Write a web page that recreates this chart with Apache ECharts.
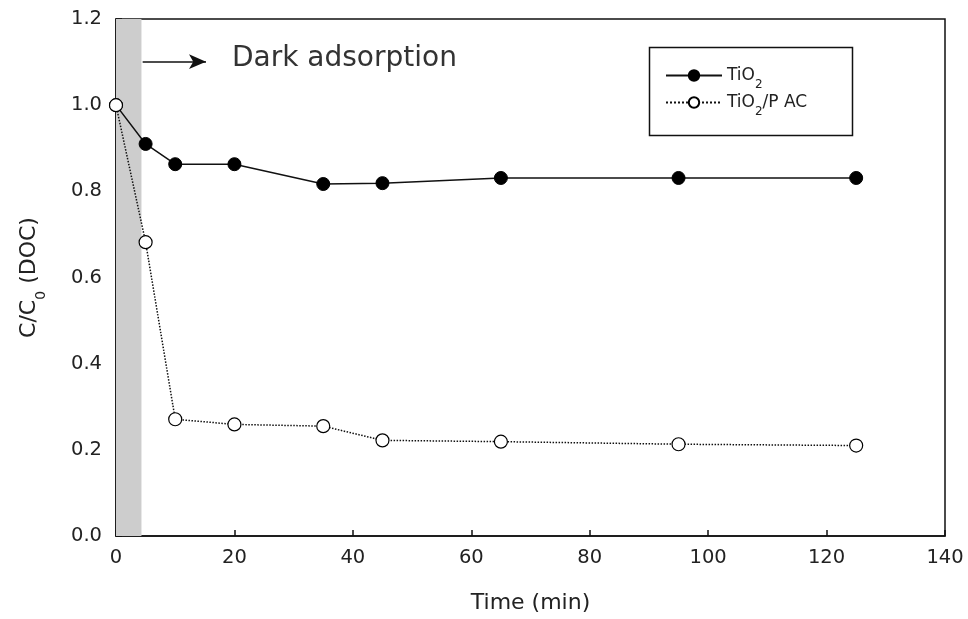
<!DOCTYPE html>
<html><head><meta charset="utf-8">
<script src="https://cdn.jsdelivr.net/npm/echarts@6/dist/echarts.min.js"></script>
<style>html,body{margin:0;padding:0;background:#fff}#c{width:968px;height:619px}</style>
</head><body><div id="c"></div>
<script>
const times = [0, 5, 10, 20, 35, 45, 65, 95, 125];
const tio2 = [1.0, 0.91, 0.863, 0.863, 0.817, 0.819, 0.831, 0.831, 0.831];
const tio2pac = [1.0, 0.682, 0.271, 0.259, 0.255, 0.222, 0.219, 0.213, 0.210];
const xTicks = [0, 20, 40, 60, 80, 100, 120, 140];
const yTicks = [0.0, 0.2, 0.4, 0.6, 0.8, 1.0, 1.2];
const darkPeriod = [0, 4.3];
const seriesNames = ['TiO2', 'TiO2/P AC'];

const F = 'DejaVu Sans, Verdana, sans-serif';
const chart = echarts.init(document.getElementById('c'), null, {renderer: 'canvas'});
const sub = {fontSize: 12, verticalAlign: 'bottom', padding: [0, 0, -7, 0], fontFamily: F, color: '#222'};
chart.setOption({
  animation: false,
  backgroundColor: '#fff',
  grid: {left: 116, right: 23, top: 19, bottom: 82, show: true, borderColor: '#111', borderWidth: 1.5, backgroundColor: 'transparent'},
  xAxis: {
    type: 'value', min: 0, max: 140, interval: 20,
    name: 'Time (min)', nameLocation: 'middle', nameGap: 56,
    nameTextStyle: {fontFamily: F, fontSize: 22, color: '#222'},
    axisLine: {show: true, lineStyle: {color: '#111', width: 1.5}},
    axisTick: {show: true, inside: true, length: 6, lineStyle: {color: '#111', width: 1.5}},
    axisLabel: {fontFamily: F, fontSize: 19.5, color: '#222', margin: 12,
      formatter: v => xTicks.includes(v) ? String(v) : ''},
    splitLine: {show: false}
  },
  yAxis: {
    type: 'value', min: 0, max: 1.2, interval: 0.2,
    name: 'C/C{sub|0} (DOC)', nameLocation: 'middle', nameGap: 76, nameRotate: 90,
    nameTextStyle: {fontFamily: F, fontSize: 22, color: '#222', rich: {sub: Object.assign({}, sub, {fontSize: 14, padding: [0, 0, -8, 0]})}},
    axisLine: {show: true, lineStyle: {color: '#111', width: 1.5}},
    axisTick: {show: true, inside: true, length: 6, lineStyle: {color: '#111', width: 1.5}},
    axisLabel: {fontFamily: F, fontSize: 19.5, color: '#222', margin: 14,
      formatter: v => yTicks.some(t => Math.abs(t - v) < 1e-9) ? v.toFixed(1) : ''},
    splitLine: {show: false}
  },
  legend: {
    orient: 'vertical', left: 660, top: 62, itemWidth: 56, itemHeight: 13, itemGap: 3,
    data: seriesNames,
    textStyle: {fontFamily: F, fontSize: 17, color: '#222', rich: {sub: sub}},
    formatter: n => n.replace('TiO2', 'TiO{sub|2}')
  },
  graphic: [
    {type: 'rect', left: 647, top: 45, shape: {width: 203, height: 88}, style: {fill: 'none', stroke: '#111', lineWidth: 1.5}, z: 5},
    {type: 'text', left: 232, top: 45, style: {text: 'Dark adsorption', font: '28px ' + F, fill: '#333'}, z: 5}
  ],
  series: [
    {
      name: seriesNames[0], type: 'line', data: times.map((t, i) => [t, tio2[i]]),
      symbol: 'circle', symbolSize: 13,
      itemStyle: {color: '#000', borderColor: '#000', borderWidth: 1},
      lineStyle: {color: '#111', width: 1.5, type: 'solid'}, z: 3,
      markArea: {silent: true, itemStyle: {color: '#cdcdcd'},
        data: [[{xAxis: darkPeriod[0]}, {xAxis: darkPeriod[1]}]]},
      markLine: {silent: true, symbol: ['none', 'arrow'], symbolSize: [11, 17], label: {show: false},
        lineStyle: {color: '#111', width: 1.5, type: 'solid'},
        data: [[{coord: [4.5, 1.101]}, {coord: [15.2, 1.101]}]]}
    },
    {
      name: seriesNames[1], type: 'line', data: times.map((t, i) => [t, tio2pac[i]]),
      symbol: 'circle', symbolSize: 13,
      itemStyle: {color: '#fff', borderColor: '#000', borderWidth: 1.2},
      lineStyle: {color: '#111', width: 1.5, type: 'dotted'}, z: 4
    }
  ]
});
</script></body></html>
